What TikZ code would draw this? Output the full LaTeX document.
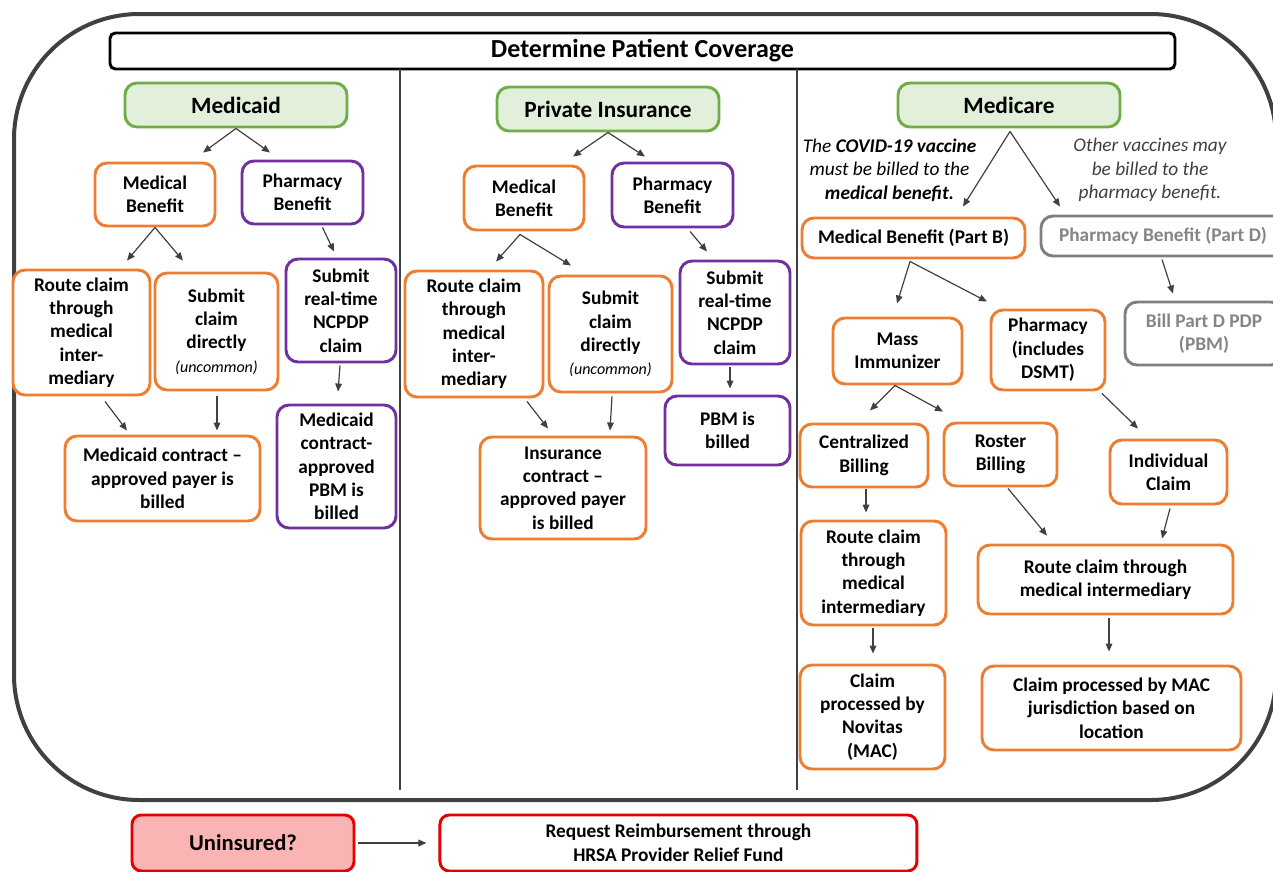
\documentclass[tikz,border=0pt]{standalone}
\usepackage{fontspec}
\setmainfont{Carlito}
\usepackage{tikz}
\usetikzlibrary{calc}
\usetikzlibrary{arrows.meta}
\usetikzlibrary{positioning}
\usepackage{xcolor}
\definecolor{orng}{HTML}{ED7D31}
\definecolor{purp}{HTML}{7030A0}
\definecolor{grn}{HTML}{70AD47}
\definecolor{grnfill}{HTML}{E2EFDA}
\definecolor{gry}{HTML}{7F7F7F}
\definecolor{frame}{HTML}{404040}
\definecolor{rd}{HTML}{E30000}
\definecolor{pinkfill}{HTML}{FAB4B4}

\tikzset{
  sz/.style 2 args={minimum width=#1*0.75pt, minimum height=#2*0.75pt},
  box/.style={draw, rounded corners=9pt, line width=2.2pt, align=center, inner sep=1pt,
    fill=white, font=\bfseries\fontsize{14.5}{17.5}\selectfont},
  obox/.style={box, draw=orng},
  pbox/.style={box, draw=purp},
  gbox/.style={box, draw=gry, text=gry!95},
  head/.style={box, draw=grn, fill=grnfill, font=\bfseries\fontsize{17.5}{20}\selectfont},
  rbox/.style={box, draw=rd, rounded corners=7pt},
  note/.style={align=center, font=\itshape\fontsize{14.5}{17.6}\selectfont},
  arr/.style={draw=frame, line width=0.9pt, -{Triangle[length=6pt,width=5pt]}},
  divider/.style={draw=frame, line width=2.2pt},
}
\newcommand{\uncom}{{\mdseries\itshape\fontsize{12}{14}\selectfont(uncommon)}}

\begin{document}
\begin{tikzpicture}[x=0.75pt,y=-0.75pt]
\useasboundingbox (0,0) rectangle (1273,871);
\draw[line width=3pt, draw=frame, rounded corners=94pt] (14,14) rectangle (1276,800);

\node[box, draw=black, rounded corners=4pt, sz={1065}{36},
  font=\bfseries\fontsize{19.5}{22}\selectfont] (ttl) at (642.5,51) {Determine Patient Coverage};
\draw[divider] (400,69) -- (400,790);
\draw[divider] (797,69) -- (797,790);

% Medicaid
\node[head, sz={222}{44}] (mcd) at (236,105) {Medicaid};
\node[obox, sz={120}{63}] (mb1) at (155,194.5) {Medical\\Benefit};
\node[pbox, sz={121}{63}] (pb1) at (302.5,192.5) {Pharmacy\\Benefit};
\node[obox, sz={137}{125}] (rc1) at (81.5,332.5) {Route claim\\through\\medical\\inter-\\mediary};
\node[obox, sz={123}{117}] (sd1) at (216.5,331.5) {Submit\\claim\\directly\\\uncom};
\node[pbox, sz={110}{103}] (nc1) at (341,310.5) {Submit\\real-time\\NCPDP\\claim};
\node[obox, sz={195}{85}] (mc1) at (162.5,478.5) {Medicaid contract --\\approved payer is\\billed};
\node[pbox, sz={119}{123}] (pbm1) at (336.5,466.5) {Medicaid\\contract-\\approved\\PBM is\\billed};

\draw[arr] (mcd.south) -- ($(mb1.north)+(48,-9)$);
\draw[arr] (mcd.south) -- ($(pb1.north)+(-32.5,-7)$);
\draw[arr] (mb1.south) -- ($(rc1.north)+(45.5,-8)$);
\draw[arr] (mb1.south) -- ($(sd1.north)+(-33.5,-11)$);
\draw[arr] ($(pb1.south)+(20,2)$) -- ($(nc1.north)+(-7,-6)$);
\draw[arr] ($(rc1.south)+(23.5,5)$) -- ($(mc1.north)+(-35.5,-4)$);
\draw[arr] ($(sd1.south)+(0.5,5)$) -- ($(mc1.north)+(54.5,-4)$);
\draw[arr] ($(nc1.south)+(-1,2)$) -- ($(pbm1.north)+(1.5,-12)$);

% Private insurance
\node[head, sz={222}{44}] (pri) at (608,109) {Private Insurance};
\node[obox, sz={120}{64}] (mb2) at (524,198) {Medical\\Benefit};
\node[pbox, sz={121}{64}] (pb2) at (672.5,195) {Pharmacy\\Benefit};
\node[obox, sz={138}{126}] (rc2) at (474,334) {Route claim\\through\\medical\\inter-\\mediary};
\node[obox, sz={123}{116}] (sd2) at (610.5,334) {Submit\\claim\\directly\\\uncom};
\node[pbox, sz={110}{103}] (nc2) at (735,312.5) {Submit\\real-time\\NCPDP\\claim};
\node[pbox, sz={125}{69}] (pbm2) at (727.5,430.5) {PBM is\\billed};
\node[obox, sz={166}{102}] (ic2) at (563,488) {Insurance\\contract --\\approved payer\\is billed};

\draw[arr] (pri.south) -- ($(mb2.north)+(49,-8)$);
\draw[arr] (pri.south) -- ($(pb2.north)+(-27.5,-5)$);
\draw[arr] ($(mb2.south)+(-4,3)$) -- ($(rc2.north)+(22,-8)$);
\draw[arr] ($(mb2.south)+(-4,3)$) -- ($(sd2.north)+(-39.5,-9)$);
\draw[arr] ($(pb2.south)+(17.5,3)$) -- ($(nc2.north)+(-28,-8)$);
\draw[arr] ($(rc2.south)+(53,3)$) -- ($(ic2.north)+(-15,-7)$);
\draw[arr] ($(sd2.south)+(1.5,3)$) -- ($(ic2.north)+(47,-5)$);
\draw[arr] ($(nc2.south)+(-5,2)$) -- ($(pbm2.north)+(2.5,-6)$);

% Medicare
\node[head, sz={222}{44}] (mcr) at (1009,105) {Medicare};
\node[note] (covid) at (889.5,170) {The \textbf{COVID-19 vaccine}\\must be billed to the\\\textbf{medical benefit.}};
\node[note, text=frame] (other) at (1150,170) {Other vaccines may\\be billed to the\\pharmacy benefit.};
\node[obox, sz={223}{40}] (ptb) at (913.5,238) {Medical Benefit (Part B)};
\node[gbox, sz={244}{40}] (ptd) at (1163,236) {Pharmacy Benefit (Part D)};
\node[obox, sz={129}{66}] (mass) at (897.5,351) {Mass\\Immunizer};
\node[obox, sz={114}{80}] (phar) at (1048,350) {Pharmacy\\(includes\\DSMT)};
\node[gbox, sz={158}{63}] (bill) at (1204,333.5) {Bill Part D PDP\\(PBM)};
\node[obox, sz={128}{63}] (cent) at (864,455.5) {Centralized\\Billing};
\node[obox, sz={113}{63}] (rost) at (1000.5,454.5) {Roster\\Billing};
\node[obox, sz={117}{64}] (indv) at (1168.5,472) {Individual\\Claim};
\node[obox, sz={145}{104}] (rcl) at (873.5,573) {Route claim\\through\\medical\\intermediary};
\node[obox, sz={255}{69}] (rcr) at (1105.5,579.5) {Route claim through\\medical intermediary};
\node[obox, sz={145}{104}] (nov) at (872.5,717) {Claim\\processed by\\Novitas\\(MAC)};
\node[obox, sz={259}{84}] (macj) at (1111.5,708) {Claim processed by MAC\\jurisdiction based on\\location};

\draw[arr] ($(mcr.south)+(1,3)$) -- ($(ptb.north)+(49.5,-10)$);
\draw[arr] ($(mcr.south)+(1,3)$) -- ($(ptd.north)+(-103,-8)$);
\draw[arr] ($(ptb.south)+(-3.5,2)$) -- ($(mass.north)+(-0.5,-13)$);
\draw[arr] ($(ptb.south)+(-3.5,2)$) -- ($(phar.north)+(-61,-7)$);
\draw[arr] ($(ptd.south)+(-1,2)$) -- ($(bill.north)+(-31,-7)$);
\draw[arr] ($(mass.south)+(-2.5,0)$) -- ($(cent.north)+(6,-12)$);
\draw[arr] ($(mass.south)+(-2.5,0)$) -- ($(rost.north)+(-57.5,-10)$);
\draw[arr] ($(phar.south)+(54,2)$) -- ($(indv.north)+(-30.5,-10)$);
\draw[arr] ($(cent.south)+(2,1)$) -- ($(rcl.north)+(-7.5,-7)$);
\draw[arr] ($(rost.south)+(7.5,1)$) -- ($(rcr.north)+(-58.5,-8)$);
\draw[arr] ($(indv.south)+(1.5,3)$) -- ($(rcr.north)+(56.5,-5)$);
\draw[arr] ($(rcl.south)+(-0.5,2)$) -- ($(nov.north)+(0.5,-10)$);
\draw[arr] ($(rcr.south)+(3.5,3)$) -- ($(macj.north)+(-2.5,-13)$);

% Uninsured
\node[rbox, fill=pinkfill, sz={222}{56}, font=\bfseries\fontsize{17}{20}\selectfont] (unin) at (243,843) {Uninsured?};
\node[rbox, sz={477}{56}, right=62.25pt of unin, font=\bfseries\fontsize{14.5}{18}\selectfont] (req) {Request Reimbursement through\\HRSA Provider Relief Fund};
\draw[arr] ($(unin.east)+(3,0)$) -- ($(req.west)+(-12,0)$);
\end{tikzpicture}
\end{document}
